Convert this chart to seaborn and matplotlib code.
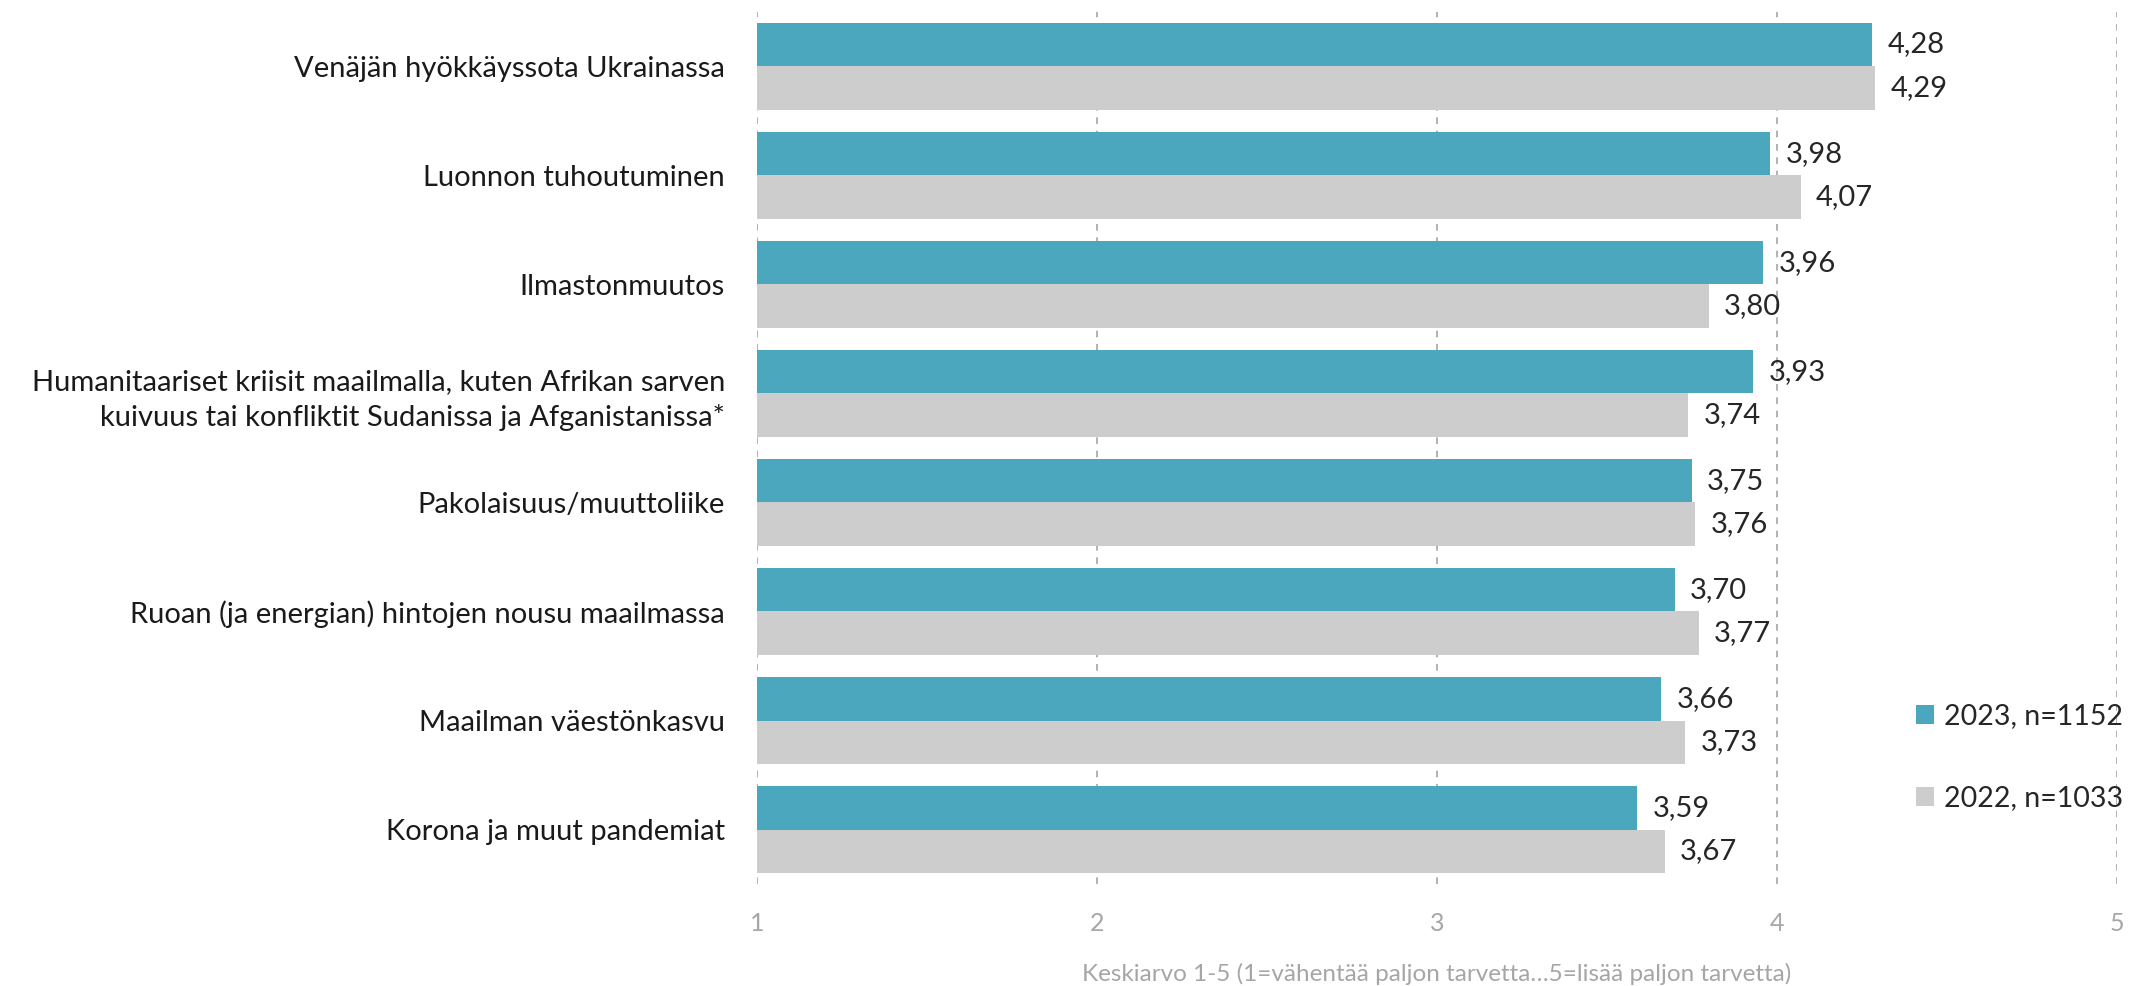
import matplotlib
matplotlib.use("Agg")
import matplotlib.pyplot as plt
import seaborn as sns
import pandas as pd

categories = [
    "Venäjän hyökkäyssota Ukrainassa",
    "Luonnon tuhoutuminen",
    "Ilmastonmuutos",
    "Humanitaariset kriisit maailmalla, kuten Afrikan sarven\nkuivuus tai konfliktit Sudanissa ja Afganistanissa*",
    "Pakolaisuus/muuttoliike",
    "Ruoan (ja energian) hintojen nousu maailmassa",
    "Maailman väestönkasvu",
    "Korona ja muut pandemiat",
]
series_names = ["2023, n=1152", "2022, n=1033"]
values_2023 = [4.28, 3.98, 3.96, 3.93, 3.75, 3.70, 3.66, 3.59]
values_2022 = [4.29, 4.07, 3.80, 3.74, 3.76, 3.77, 3.73, 3.67]
x_ticks = [1, 2, 3, 4, 5]
x_label = "Keskiarvo 1-5 (1=vähentää paljon tarvetta…5=lisää paljon tarvetta)"

colors = ["#4BA7BD", "#CDCDCD"]

df = pd.DataFrame({
    "category": categories * 2,
    "value": values_2023 + values_2022,
    "series": [series_names[0]] * len(categories) + [series_names[1]] * len(categories),
})

sns.set_theme(style="white")
plt.rcParams["font.family"] = ["Lato", "DejaVu Sans"]

fig = plt.figure(figsize=(21.36, 9.86), dpi=100)
ax = fig.add_axes([0.3544, 0.1034, 0.6366, 0.8846])

sns.barplot(data=df, y="category", x="value", hue="series", orient="h",
            palette=colors, width=0.8, gap=0, ax=ax, legend=True, saturation=1,
            edgecolor="none", linewidth=0)

ax.set_xlim(1, 5)
ax.set_xticks(x_ticks)
ax.set_xticklabels([str(t) for t in x_ticks])
ax.grid(axis="x", color="#A6A6A6", linestyle=(0, (4, 4)), linewidth=1.2)
ax.set_axisbelow(True)
for s in ax.spines.values():
    s.set_visible(False)

ax.tick_params(axis="y", length=0, pad=23, labelsize=21, labelcolor="#1a1a1a")
ax.tick_params(axis="x", length=0, pad=20, labelsize=18, labelcolor="#A6A6A6")
for lbl in ax.get_yticklabels():
    lbl.set_horizontalalignment("right")
    lbl.set_multialignment("right")
    lbl.set_linespacing(1.4)
ax.set_ylabel("")
ax.set_xlabel(x_label, fontsize=17.5, color="#A6A6A6", labelpad=20)

for cont, vals in zip(ax.containers, [values_2023, values_2022]):
    ax.bar_label(cont, labels=[f"{v:.2f}".replace(".", ",") for v in vals],
                 padding=11, fontsize=21, color="#262626")

handles, labels = ax.get_legend_handles_labels()
ax.get_legend().remove()
fig.legend(handles, labels, loc="center left", bbox_to_anchor=(0.897, 0.232),
           frameon=False, fontsize=20.5, handlelength=0.65, handleheight=0.65,
           handletextpad=0.35, labelspacing=1.95, borderpad=0, borderaxespad=0,
           labelcolor="#262626")

fig.savefig("out.png", dpi=100)
